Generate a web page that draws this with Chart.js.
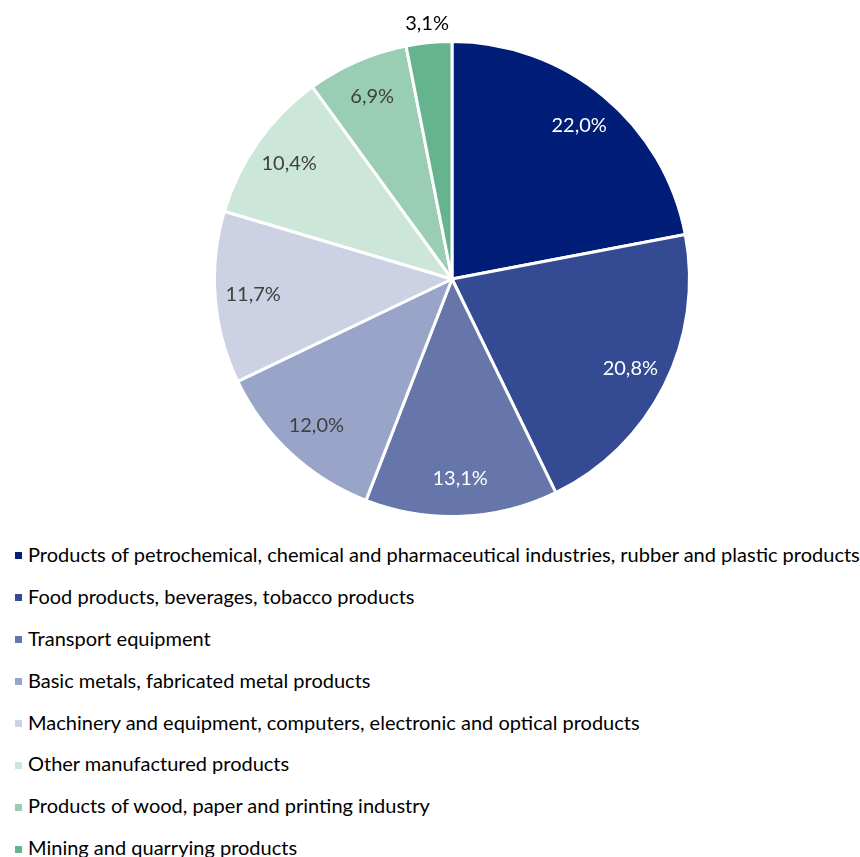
<!DOCTYPE html>
<html>
<head>
<meta charset="utf-8">
<script src="https://cdn.jsdelivr.net/npm/chart.js@4.4.1/dist/chart.umd.min.js"></script>
<style>
	body { margin: 0; background: #fff; font-family: Lato, "Open Sans", sans-serif; }
	#wrap { position: relative; width: 860px; height: 857px; overflow: hidden; }
	#chartBox { position: absolute; left: 0; top: 0; width: 860px; height: 530px; }
	#legend { position: absolute; left: 0; top: 534px; margin: 0; padding: 0; list-style: none; }
	#legend li { height: 41.9px; line-height: 41.9px; font-size: 20px; color: #000; white-space: nowrap; }
	#legend span.box { display: inline-block; width: 7px; height: 7px; margin: 0 6px 0 15px; vertical-align: middle; position: relative; top: -1px; }
</style>
</head>
<body>
<div id="wrap">
	<div id="chartBox"><canvas id="myChart" width="860" height="530"></canvas></div>
	<ul id="legend"></ul>
</div>
<script>
var _labels = [
	'Products of petrochemical, chemical and pharmaceutical industries, rubber and plastic products',
	'Food products, beverages, tobacco products',
	'Transport equipment',
	'Basic metals, fabricated metal products',
	'Machinery and equipment, computers, electronic and optical products',
	'Other manufactured products',
	'Products of wood, paper and printing industry',
	'Mining and quarrying products'
];
var _data = [22.0, 20.8, 13.1, 12.0, 11.7, 10.4, 6.9, 3.1];
var _colors = ['#001E78', '#344A93', '#6675AA', '#99A5C8', '#CCD2E4', '#CCE6DA', '#99CDB4', '#66B48F'];
var _textColors = ['#ffffff', '#ffffff', '#ffffff', '#404040', '#404040', '#404040', '#404040', '#404040'];

// percent labels, written with a comma like the original
var pctLabels = {
	id: 'pctLabels',
	afterDatasetsDraw: function(chart) {
		var ctx = chart.ctx;
		var meta = chart.getDatasetMeta(0);
		ctx.save();
		ctx.font = '20px Lato, "Open Sans", sans-serif';
		ctx.textAlign = 'center';
		ctx.textBaseline = 'middle';
		meta.data.forEach(function(arc, i) {
			var p = arc.getProps(['x', 'y', 'startAngle', 'endAngle', 'outerRadius'], true);
			var mid = (p.startAngle + p.endAngle) / 2;
			var r = p.outerRadius * 0.84;
			var color = _textColors[i];
			if (_data[i] < 5) {
				r = p.outerRadius + 19;
				color = '#000000';
			}
			ctx.fillStyle = color;
			var txt = _data[i].toFixed(1).replace('.', ',') + '%';
			ctx.fillText(txt, p.x + Math.cos(mid) * r, p.y + Math.sin(mid) * r);
		});
		ctx.restore();
	}
};

function buildLegend() {
	var ul = document.getElementById('legend');
	_labels.forEach(function(item, i) {
		var li = document.createElement('li');
		var box = document.createElement('span');
		box.className = 'box';
		box.style.background = _colors[i];
		li.appendChild(box);
		li.appendChild(document.createTextNode(item));
		ul.appendChild(li);
	});
}

var myChart = new Chart(document.getElementById('myChart'), {
	type: 'pie',
	data: {
		labels: _labels,
		datasets: [{
			data: _data,
			backgroundColor: _colors,
			borderColor: '#ffffff',
			borderWidth: 3
		}]
	},
	options: {
		responsive: false,
		animation: false,
		layout: {
			padding: { left: 44, right: 0, top: 40, bottom: 12 }
		},
		plugins: {
			legend: { display: false },
			tooltip: { enabled: false }
		}
	},
	plugins: [pctLabels]
});

buildLegend();
</script>
</body>
</html>
